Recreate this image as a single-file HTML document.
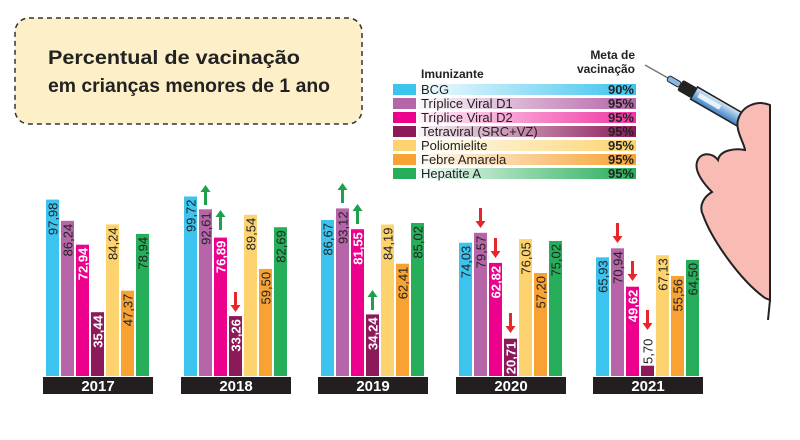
<!DOCTYPE html>
<html><head><meta charset="utf-8"><style>
html,body{margin:0;padding:0;background:#fff}
svg{display:block}
text{font-family:"Liberation Sans",sans-serif}
</style></head><body>
<svg width="800" height="440" viewBox="0 0 800 440" xmlns="http://www.w3.org/2000/svg">
<defs>
<linearGradient id="g0"><stop offset="0" stop-color="#3cc3ee" stop-opacity="0.05"/><stop offset="1" stop-color="#3cc3ee"/></linearGradient>
<linearGradient id="g1"><stop offset="0" stop-color="#b565a8" stop-opacity="0.05"/><stop offset="1" stop-color="#b565a8"/></linearGradient>
<linearGradient id="g2"><stop offset="0" stop-color="#ec008c" stop-opacity="0.05"/><stop offset="1" stop-color="#ec008c" stop-opacity="0.8"/></linearGradient>
<linearGradient id="g3"><stop offset="0" stop-color="#8c1a5b" stop-opacity="0.05"/><stop offset="1" stop-color="#8c1a5b"/></linearGradient>
<linearGradient id="g4"><stop offset="0" stop-color="#fdd36f" stop-opacity="0.05"/><stop offset="1" stop-color="#fdd36f"/></linearGradient>
<linearGradient id="g5"><stop offset="0" stop-color="#f7a233" stop-opacity="0.05"/><stop offset="1" stop-color="#f7a233"/></linearGradient>
<linearGradient id="g6"><stop offset="0" stop-color="#27ae5a" stop-opacity="0.05"/><stop offset="1" stop-color="#27ae5a"/></linearGradient>
<linearGradient id="syr" x1="0" y1="0" x2="0" y2="1"><stop offset="0" stop-color="#dbe9f6"/><stop offset="1" stop-color="#3a7fc4"/></linearGradient>
</defs>

<rect x="15" y="18" width="347" height="106" rx="14" fill="#fdf0c8" stroke="#333" stroke-width="1.5" stroke-dasharray="5,4"/>
<text x="48" y="64" font-size="19.5" font-weight="bold" fill="#222" textLength="252" lengthAdjust="spacingAndGlyphs">Percentual de vacinação</text>
<text x="48" y="92" font-size="19.5" font-weight="bold" fill="#222" textLength="282" lengthAdjust="spacingAndGlyphs">em crianças menores de 1 ano</text>

<text x="421" y="78" font-size="12" font-weight="bold" fill="#222">Imunizante</text>
<text x="635" y="59" font-size="12" font-weight="bold" fill="#222" text-anchor="end">Meta de</text>
<text x="635" y="73" font-size="12" font-weight="bold" fill="#222" text-anchor="end">vacinação</text>
<g font-size="13" fill="#222">
<rect x="393" y="84" width="23" height="11" fill="#3cc3ee"/><rect x="418" y="84" width="218" height="11" fill="url(#g0)"/><text x="421" y="94">BCG</text><text x="634" y="94" text-anchor="end" font-weight="bold">90%</text>
<rect x="393" y="98" width="23" height="11" fill="#b565a8"/><rect x="418" y="98" width="218" height="11" fill="url(#g1)"/><text x="421" y="108">Tríplice Viral D1</text><text x="634" y="108" text-anchor="end" font-weight="bold">95%</text>
<rect x="393" y="112" width="23" height="11" fill="#ec008c"/><rect x="418" y="112" width="218" height="11" fill="url(#g2)"/><text x="421" y="122">Tríplice Viral D2</text><text x="634" y="122" text-anchor="end" font-weight="bold">95%</text>
<rect x="393" y="126" width="23" height="11" fill="#8c1a5b"/><rect x="418" y="126" width="218" height="11" fill="url(#g3)"/><text x="421" y="136">Tetraviral (SRC+VZ)</text><text x="634" y="136" text-anchor="end" font-weight="bold">95%</text>
<rect x="393" y="140" width="23" height="11" fill="#fdd36f"/><rect x="418" y="140" width="218" height="11" fill="url(#g4)"/><text x="421" y="150">Poliomielite</text><text x="634" y="150" text-anchor="end" font-weight="bold">95%</text>
<rect x="393" y="154" width="23" height="11" fill="#f7a233"/><rect x="418" y="154" width="218" height="11" fill="url(#g5)"/><text x="421" y="164">Febre Amarela</text><text x="634" y="164" text-anchor="end" font-weight="bold">95%</text>
<rect x="393" y="168" width="23" height="11" fill="#27ae5a"/><rect x="418" y="168" width="218" height="11" fill="url(#g6)"/><text x="421" y="178">Hepatite A</text><text x="634" y="178" text-anchor="end" font-weight="bold">95%</text>
</g>

<line x1="645" y1="65" x2="668" y2="78" stroke="#777" stroke-width="1.5"/>
<g transform="translate(668,78) rotate(30)">
<rect x="0" y="-3" width="14" height="6" rx="2" fill="#8ab8e0" stroke="#222"/>
<rect x="14" y="-6" width="16" height="12" rx="2" fill="#222"/>
<rect x="30" y="-7" width="58" height="14" fill="url(#syr)" stroke="#222" stroke-width="1.5"/>
<rect x="35" y="-3" width="25" height="5" fill="#e8f2fb"/>
</g>
<path d="M770,105 C758,100 742,105 738,120 C735,130 745,145 745,150 C735,148 720,150 718,160 C712,152 700,152 697,162 C694,172 705,185 712,192 C705,196 698,205 703,215 C712,240 740,280 765,298 L770,300 Z" fill="#f8bcb5" stroke="#222" stroke-width="2"/>
<path d="M770,300 L768,320" stroke="#222" stroke-width="2"/>

<g transform="translate(46,0)" font-size="13">
<rect x="0" y="199.6" width="13" height="176.4" fill="#3cc3ee"/>
<rect x="15" y="220.8" width="13" height="155.2" fill="#b565a8"/>
<rect x="30" y="244.7" width="13" height="131.3" fill="#ec008c"/>
<rect x="45" y="312.2" width="13" height="63.8" fill="#8c1a5b"/>
<rect x="60" y="224.4" width="13" height="151.6" fill="#fdd36f"/>
<rect x="75" y="290.7" width="13" height="85.3" fill="#f7a233"/>
<rect x="90" y="233.9" width="13" height="142.1" fill="#27ae5a"/>
<text transform="translate(11.5,202.6) rotate(-90)" text-anchor="end" fill="#222">97,98</text>
<text transform="translate(26.5,223.8) rotate(-90)" text-anchor="end" fill="#222">86,24</text>
<text transform="translate(41.5,247.7) rotate(-90)" text-anchor="end" fill="#fff" font-weight="bold">72,94</text>
<text transform="translate(56.5,315.2) rotate(-90)" text-anchor="end" fill="#fff" font-weight="bold">35,44</text>
<text transform="translate(71.5,227.4) rotate(-90)" text-anchor="end" fill="#222">84,24</text>
<text transform="translate(86.5,293.7) rotate(-90)" text-anchor="end" fill="#222">47,37</text>
<text transform="translate(101.5,236.9) rotate(-90)" text-anchor="end" fill="#222">78,94</text>
<rect x="-3" y="377" width="110" height="17" fill="#231f20"/>
<text x="52" y="391" text-anchor="middle" fill="#fff" font-size="15" font-weight="bold">2017</text>
</g>

<g transform="translate(184,0)" font-size="13">
<rect x="0" y="196.5" width="13" height="179.5" fill="#3cc3ee"/>
<rect x="15" y="209.3" width="13" height="166.7" fill="#b565a8"/>
<rect x="30" y="237.6" width="13" height="138.4" fill="#ec008c"/>
<rect x="45" y="316.1" width="13" height="59.9" fill="#8c1a5b"/>
<rect x="60" y="214.8" width="13" height="161.2" fill="#fdd36f"/>
<rect x="75" y="268.9" width="13" height="107.1" fill="#f7a233"/>
<rect x="90" y="227.2" width="13" height="148.8" fill="#27ae5a"/>
<text transform="translate(11.5,199.5) rotate(-90)" text-anchor="end" fill="#222">99,72</text>
<text transform="translate(26.5,212.3) rotate(-90)" text-anchor="end" fill="#222">92,61</text>
<text transform="translate(41.5,240.6) rotate(-90)" text-anchor="end" fill="#fff" font-weight="bold">76,89</text>
<text transform="translate(56.5,319.1) rotate(-90)" text-anchor="end" fill="#fff" font-weight="bold">33,26</text>
<text transform="translate(71.5,217.8) rotate(-90)" text-anchor="end" fill="#222">89,54</text>
<text transform="translate(86.5,271.9) rotate(-90)" text-anchor="end" fill="#222">59,50</text>
<text transform="translate(101.5,230.2) rotate(-90)" text-anchor="end" fill="#222">82,69</text>
<polygon transform="translate(21.5,185)" points="0,0 -5,7 -1.5,7 -1.5,20 1.5,20 1.5,7 5,7" fill="#1fa04a"/>
<polygon transform="translate(36.5,210)" points="0,0 -5,7 -1.5,7 -1.5,20 1.5,20 1.5,7 5,7" fill="#1fa04a"/>
<polygon transform="translate(51.5,312)" points="0,0 -5,-7 -1.5,-7 -1.5,-20 1.5,-20 1.5,-7 5,-7" fill="#e8262a"/>
<rect x="-3" y="377" width="110" height="17" fill="#231f20"/>
<text x="52" y="391" text-anchor="middle" fill="#fff" font-size="15" font-weight="bold">2018</text>
</g>

<g transform="translate(321,0)" font-size="13">
<rect x="0" y="220" width="13" height="156" fill="#3cc3ee"/>
<rect x="15" y="208.4" width="13" height="167.6" fill="#b565a8"/>
<rect x="30" y="229.2" width="13" height="146.8" fill="#ec008c"/>
<rect x="45" y="314.4" width="13" height="61.6" fill="#8c1a5b"/>
<rect x="60" y="224.5" width="13" height="151.5" fill="#fdd36f"/>
<rect x="75" y="263.7" width="13" height="112.3" fill="#f7a233"/>
<rect x="90" y="223" width="13" height="153" fill="#27ae5a"/>
<text transform="translate(11.5,223) rotate(-90)" text-anchor="end" fill="#222">86,67</text>
<text transform="translate(26.5,211.4) rotate(-90)" text-anchor="end" fill="#222">93,12</text>
<text transform="translate(41.5,232.2) rotate(-90)" text-anchor="end" fill="#fff" font-weight="bold">81,55</text>
<text transform="translate(56.5,317.4) rotate(-90)" text-anchor="end" fill="#fff" font-weight="bold">34,24</text>
<text transform="translate(71.5,227.5) rotate(-90)" text-anchor="end" fill="#222">84,19</text>
<text transform="translate(86.5,266.7) rotate(-90)" text-anchor="end" fill="#222">62,41</text>
<text transform="translate(101.5,226) rotate(-90)" text-anchor="end" fill="#222">85,02</text>
<polygon transform="translate(21.5,183)" points="0,0 -5,7 -1.5,7 -1.5,20 1.5,20 1.5,7 5,7" fill="#1fa04a"/>
<polygon transform="translate(36.5,204)" points="0,0 -5,7 -1.5,7 -1.5,20 1.5,20 1.5,7 5,7" fill="#1fa04a"/>
<polygon transform="translate(51.5,290)" points="0,0 -5,7 -1.5,7 -1.5,20 1.5,20 1.5,7 5,7" fill="#1fa04a"/>
<rect x="-3" y="377" width="110" height="17" fill="#231f20"/>
<text x="52" y="391" text-anchor="middle" fill="#fff" font-size="15" font-weight="bold">2019</text>
</g>

<g transform="translate(459,0)" font-size="13">
<rect x="0" y="242.7" width="13" height="133.3" fill="#3cc3ee"/>
<rect x="15" y="232.8" width="13" height="143.2" fill="#b565a8"/>
<rect x="30" y="262.9" width="13" height="113.1" fill="#ec008c"/>
<rect x="45" y="338.7" width="13" height="37.3" fill="#8c1a5b"/>
<rect x="60" y="239.1" width="13" height="136.9" fill="#fdd36f"/>
<rect x="75" y="273" width="13" height="103" fill="#f7a233"/>
<rect x="90" y="241" width="13" height="135" fill="#27ae5a"/>
<text transform="translate(11.5,245.7) rotate(-90)" text-anchor="end" fill="#222">74,03</text>
<text transform="translate(26.5,235.8) rotate(-90)" text-anchor="end" fill="#222">79,57</text>
<text transform="translate(41.5,265.9) rotate(-90)" text-anchor="end" fill="#fff" font-weight="bold">62,82</text>
<text transform="translate(56.5,341.7) rotate(-90)" text-anchor="end" fill="#fff" font-weight="bold">20,71</text>
<text transform="translate(71.5,242.1) rotate(-90)" text-anchor="end" fill="#222">76,05</text>
<text transform="translate(86.5,276) rotate(-90)" text-anchor="end" fill="#222">57,20</text>
<text transform="translate(101.5,244) rotate(-90)" text-anchor="end" fill="#222">75,02</text>
<polygon transform="translate(21.5,228)" points="0,0 -5,-7 -1.5,-7 -1.5,-20 1.5,-20 1.5,-7 5,-7" fill="#e8262a"/>
<polygon transform="translate(36.5,258)" points="0,0 -5,-7 -1.5,-7 -1.5,-20 1.5,-20 1.5,-7 5,-7" fill="#e8262a"/>
<polygon transform="translate(51.5,333)" points="0,0 -5,-7 -1.5,-7 -1.5,-20 1.5,-20 1.5,-7 5,-7" fill="#e8262a"/>
<rect x="-3" y="377" width="110" height="17" fill="#231f20"/>
<text x="52" y="391" text-anchor="middle" fill="#fff" font-size="15" font-weight="bold">2020</text>
</g>

<g transform="translate(596,0)" font-size="13">
<rect x="0" y="257.3" width="13" height="118.7" fill="#3cc3ee"/>
<rect x="15" y="248.3" width="13" height="127.7" fill="#b565a8"/>
<rect x="30" y="286.7" width="13" height="89.3" fill="#ec008c"/>
<rect x="45" y="365.7" width="13" height="10.3" fill="#8c1a5b"/>
<rect x="60" y="255.2" width="13" height="120.8" fill="#fdd36f"/>
<rect x="75" y="276" width="13" height="100" fill="#f7a233"/>
<rect x="90" y="259.9" width="13" height="116.1" fill="#27ae5a"/>
<text transform="translate(11.5,260.3) rotate(-90)" text-anchor="end" fill="#222">65,93</text>
<text transform="translate(26.5,251.3) rotate(-90)" text-anchor="end" fill="#222">70,94</text>
<text transform="translate(41.5,289.7) rotate(-90)" text-anchor="end" fill="#fff" font-weight="bold">49,62</text>
<text transform="translate(56.5,364) rotate(-90)" text-anchor="start" fill="#222">5,70</text>
<text transform="translate(71.5,258.2) rotate(-90)" text-anchor="end" fill="#222">67,13</text>
<text transform="translate(86.5,279) rotate(-90)" text-anchor="end" fill="#222">55,56</text>
<text transform="translate(101.5,262.9) rotate(-90)" text-anchor="end" fill="#222">64,50</text>
<polygon transform="translate(21.5,243)" points="0,0 -5,-7 -1.5,-7 -1.5,-20 1.5,-20 1.5,-7 5,-7" fill="#e8262a"/>
<polygon transform="translate(36.5,281)" points="0,0 -5,-7 -1.5,-7 -1.5,-20 1.5,-20 1.5,-7 5,-7" fill="#e8262a"/>
<polygon transform="translate(51.5,330)" points="0,0 -5,-7 -1.5,-7 -1.5,-20 1.5,-20 1.5,-7 5,-7" fill="#e8262a"/>
<rect x="-3" y="377" width="110" height="17" fill="#231f20"/>
<text x="52" y="391" text-anchor="middle" fill="#fff" font-size="15" font-weight="bold">2021</text>
</g>
</svg>
</body></html>
